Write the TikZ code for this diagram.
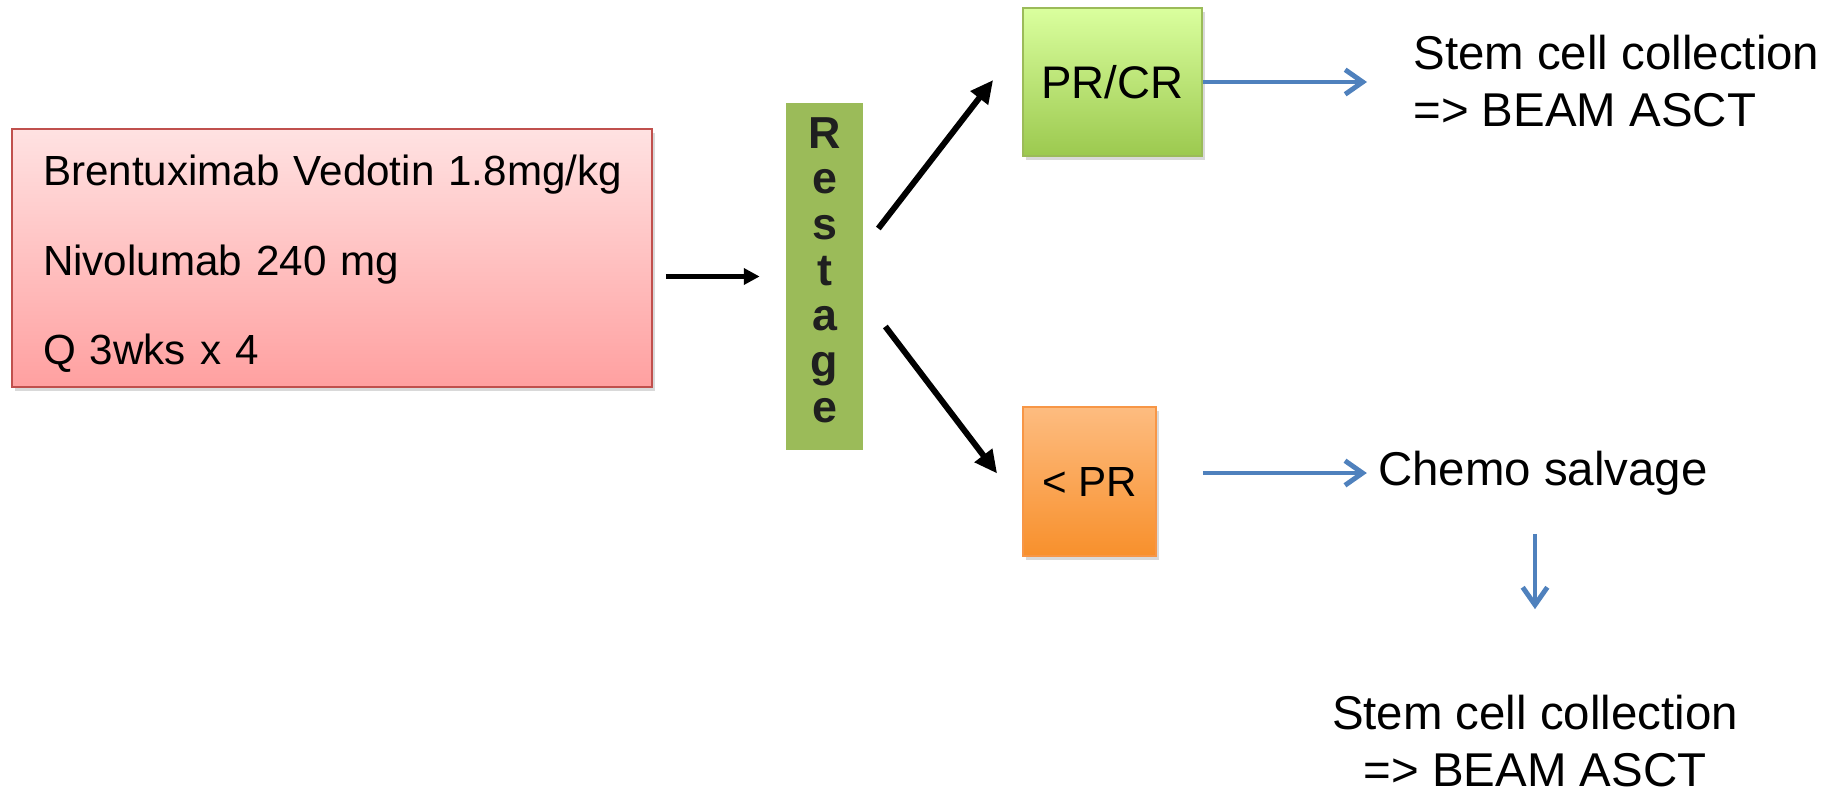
\documentclass[tikz,border=0pt]{standalone}
\usepackage{fontspec}
\setmainfont{Liberation Sans}
\usepackage{tikz}
\usetikzlibrary{arrows.meta,positioning,calc,shadows}
\definecolor{redline}{HTML}{C0504D}
\definecolor{redtop}{HTML}{FFE2E2}
\definecolor{redbot}{HTML}{FFA0A0}
\definecolor{stagegreen}{HTML}{9BBB59}
\definecolor{greentop}{HTML}{DAFF9E}
\definecolor{greenbot}{HTML}{9CC94F}
\definecolor{orangeline}{HTML}{F79646}
\definecolor{orangetop}{HTML}{FDBC80}
\definecolor{orangebot}{HTML}{F8902C}
\definecolor{arrowblue}{HTML}{4F81BD}
\tikzset{boxshadow/.style={drop shadow={shadow xshift=1.5pt,shadow yshift=-2.5pt,opacity=0.3}}}
\tikzset{regbox/.style={draw=redline,line width=1pt,top color=redtop,bottom color=redbot,boxshadow,
  minimum width=12.8cm,minimum height=5.16cm,inner xsep=0.62cm,text width=11.56cm,align=left,
  font=\fontsize{24}{51}\selectfont}}
\tikzset{stagebox/.style={fill=stagegreen,minimum width=1.54cm,minimum height=6.94cm,align=center,
  inner sep=0pt,font=\bfseries\fontsize{25.5}{26}\selectfont,text=black!88}}
\tikzset{goodbox/.style={draw=stagegreen,line width=1pt,top color=greentop,bottom color=greenbot,boxshadow,
  minimum width=3.58cm,minimum height=2.96cm,font=\fontsize{26}{30}\selectfont}}
\tikzset{poorbox/.style={draw=orangeline,line width=1pt,top color=orangetop,bottom color=orangebot,boxshadow,
  minimum width=2.66cm,minimum height=2.98cm,font=\fontsize{24}{28}\selectfont}}
\tikzset{plaintext/.style={inner sep=0pt,font=\fontsize{27}{32}\selectfont}}
\tikzset{blackarrow/.style={-{Triangle[length=9pt,width=9pt]},line width=2.6pt}}
\tikzset{bigarrow/.style={-{Triangle[length=13pt,width=12pt]},line width=3.4pt}}
\tikzset{bluearrow/.style={-{Straight Barb[length=10pt,width=14pt]},line width=2.8pt,draw=arrowblue}}

\begin{document}
\begin{tikzpicture}[x=0.02cm,y=-0.02cm]
\useasboundingbox (0,0) rectangle (1839,795);

\node[regbox] (regimen) at (332,258) {\rule{0pt}{24pt}\mbox{Brentuximab Vedotin 1.8mg/kg}\\Nivolumab 240 mg\\Q 3wks x 4};
\node[stagebox] (restage) at (824.5,276.5) {R\\e\\s\\t\\a\\g\\e\strut};

\node[goodbox] (good) at (1112.5,82) {PR/CR};
\node[poorbox] (poor) at (1089.5,481.5) {< PR};

\node[plaintext,align=left,anchor=west] (stemA) at (1413,81) {Stem cell collection\\=> BEAM ASCT};
\node[plaintext] (chemo) at (1543,473) {Chemo salvage};
\node[plaintext,align=center] (stemB) at (1535,741) {Stem cell collection\\=> BEAM ASCT};

\draw[blackarrow,shorten <=0.26cm,shorten >=0.52cm] (regimen.east |- restage.west) -- (restage.west);

\draw[bigarrow] ($(restage.east)+(15,-48)$) -- ($(good.west)+(-29,-2)$);
\draw[bigarrow] ($(restage.east)+(22,50)$) -- ($(poor.west)+(-25,-8)$);

\draw[bluearrow,shorten >=0.92cm] (good.east) -- (good.east -| stemA.west);
\draw[bluearrow,shorten <=0.92cm,shorten >=0.22cm] (poor.east |- chemo.west) -- (chemo.west);
\draw[bluearrow,shorten <=0.77cm,shorten >=1.72cm] (stemB.north |- chemo.south) -- (stemB.north);

\end{tikzpicture}
\end{document}
